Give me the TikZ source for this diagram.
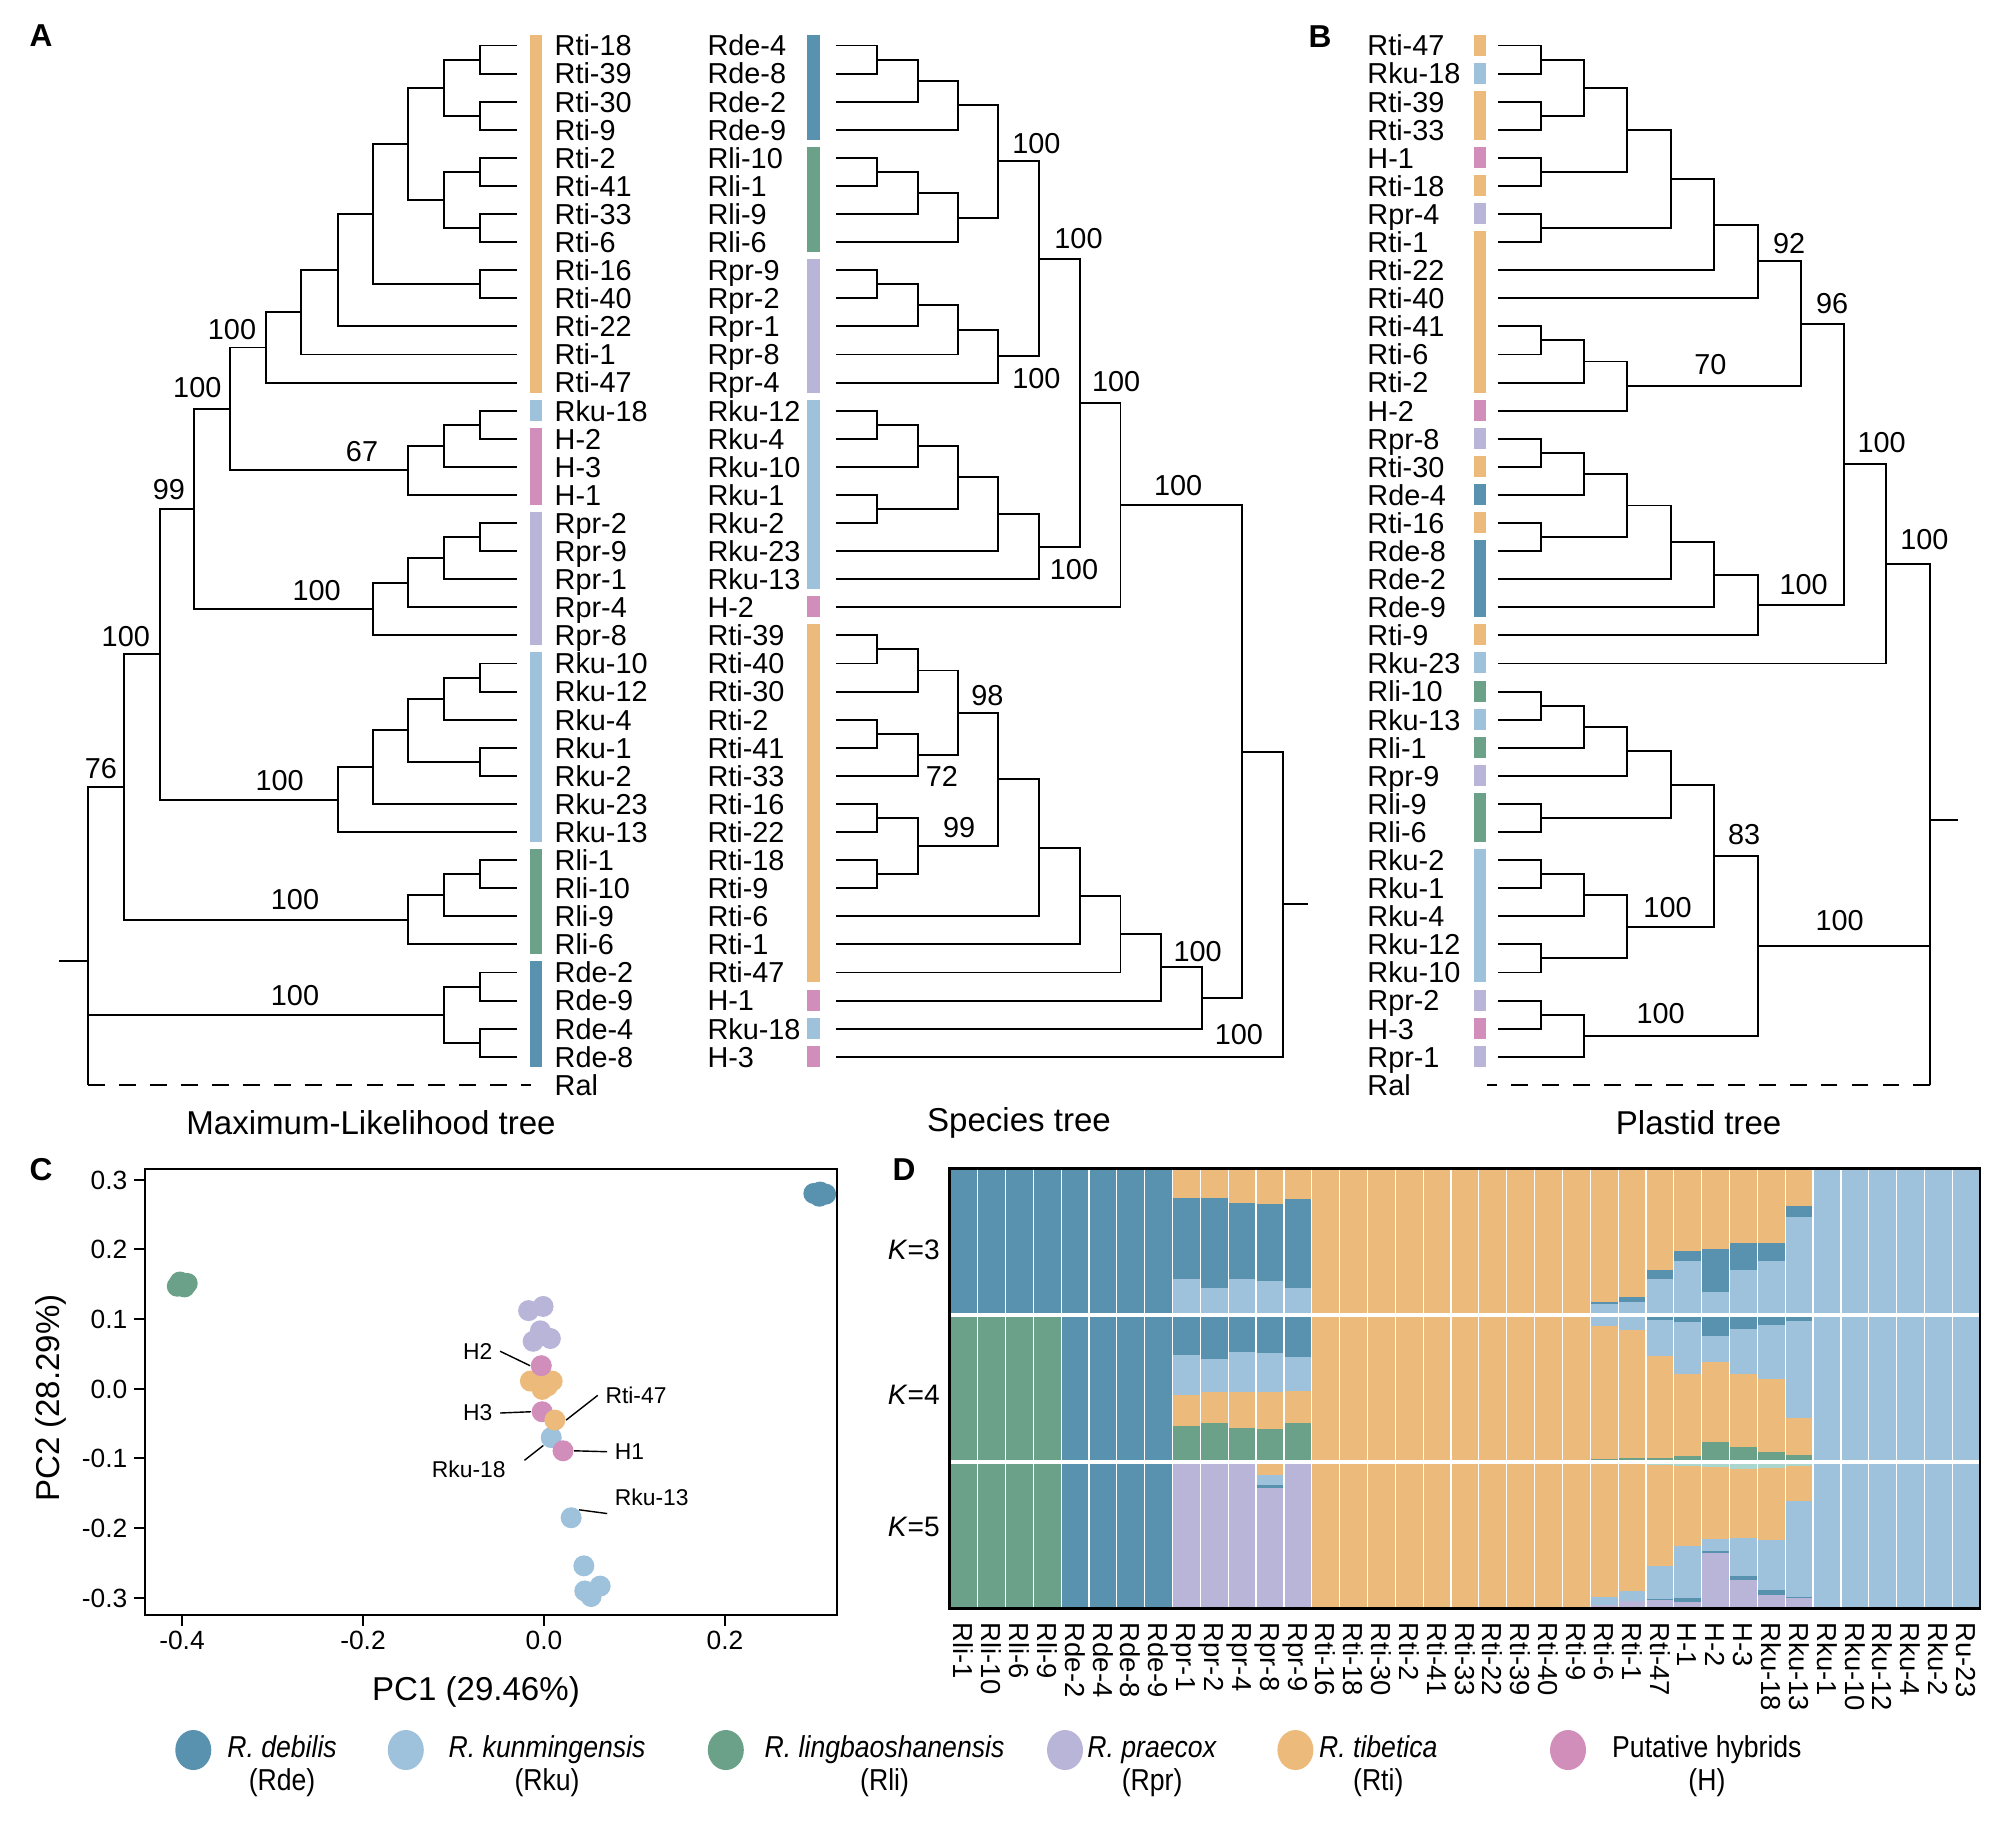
\documentclass[tikz,border=0pt]{standalone}
\usepackage{fontspec}
\setmainfont{Liberation Sans}
\newfontfamily\narrowsans[FakeStretch=0.88]{Liberation Sans}
\usetikzlibrary{calc,shapes.geometric}

\definecolor{rde}{RGB}{88,146,174}
\definecolor{rku}{RGB}{158,193,220}
\definecolor{rli}{RGB}{107,161,136}
\definecolor{rpr}{RGB}{185,181,216}
\definecolor{rti}{RGB}{236,187,124}
\definecolor{hyb}{RGB}{209,142,186}
\definecolor{aqua}{RGB}{170,214,205}

% join two children at depth #2
\newcommand{\clade}[4]{%
  \coordinate (tmpx) at (#2,0);
  \path ($(#3)!0.5!(#4)$) coordinate (tmpm);
  \coordinate (#1) at (tmpm -| tmpx);
  \draw[branch] (#3) -| (#1) |- (#4);
}

% one admixture column: column, row top, colour/fraction list
\newcommand{\admix}[3]{%
  \gdef\accfrac{0}%
  \foreach \cl/\fr in {#3} {%
    \pgfmathsetmacro\ya{#2+146.6*\accfrac}%
    \pgfmathsetmacro\yb{#2+146.6*(\accfrac+\fr)}%
    \fill[\cl] ({949.7+27.85*#1},\ya) rectangle ({949.7+27.85*(#1+1)},\yb);%
    \pgfmathsetmacro\tmpacc{\accfrac+\fr}%
    \xdef\accfrac{\tmpacc}%
  }%
}

\begin{document}
\begin{tikzpicture}[x=0.01cm, y=-0.01cm,
    branch/.style={line width=0.55pt},
    outgroup/.style={line width=0.55pt, dash pattern=on 4.8pt off 4pt},
    leaf/.style={anchor=west, inner sep=0pt, text height=5.9pt, text depth=0pt, font=\fontsize{8.2}{9.8}\selectfont},
    boot/.style={inner sep=0pt, text height=5.9pt, text depth=0pt, font=\fontsize{8.2}{9.8}\selectfont},
    treetitle/.style={font=\fontsize{9.4}{11}\selectfont},
    panel/.style={font=\fontsize{9}{11}\selectfont\bfseries},
    pcadot/.style={circle, inner sep=0pt, minimum size=0.21cm},
    ticklabel/.style={inner sep=0pt, text height=5.4pt, text depth=0pt, font=\fontsize{7.5}{9}\selectfont},
    callout/.style={inner sep=2pt, font=\fontsize{6.5}{8}\selectfont},
    legdot/.style={ellipse, inner sep=0pt, minimum width=0.36cm, minimum height=0.40cm},
    legtext/.style={anchor=west, align=center, inner sep=0pt, font=\narrowsans\fontsize{8.6}{9.4}\selectfont},
    klabel/.style={anchor=east, inner sep=0pt, font=\fontsize{8}{9.6}\selectfont},
    collabel/.style={rotate=-90, anchor=west, inner sep=0pt, text height=5.6pt, text depth=0pt, font=\fontsize{7.8}{9}\selectfont}
  ]
  \useasboundingbox (0,0) rectangle (2007,1830);

  % ---------- A: maximum-likelihood tree
  \node[panel] (pA) at (41,36) {A};
  \foreach \s/\e/\cl in {0/12/rti, 13/13/rku, 14/16/hyb, 17/21/rpr, 22/28/rku, 29/32/rli, 33/36/rde}
    \fill[\cl] (530,{45.5+28.09*\s-11}) rectangle (542,{45.5+28.09*\e+10});
  \foreach \nm [count=\i from 0] in {Rti-18,Rti-39,Rti-30,Rti-9,Rti-2,Rti-41,Rti-33,Rti-6,Rti-16,Rti-40,Rti-22,Rti-1,Rti-47,Rku-18,H-2,H-3,H-1,Rpr-2,Rpr-9,Rpr-1,Rpr-4,Rpr-8,Rku-10,Rku-12,Rku-4,Rku-1,Rku-2,Rku-23,Rku-13,Rli-1,Rli-10,Rli-9,Rli-6,Rde-2,Rde-9,Rde-4,Rde-8} {
    \pgfmathsetmacro\yy{45.5+28.09*\i}
    \coordinate (a\i) at (517,\yy);
    \node[leaf] (la\i) at (554,\yy) {\nm};
  }
  \coordinate (a37) at (531,1084.8);
  \node[leaf] (la37) at (554,1084.8) {Ral};

  \clade{A1}{480}{a0}{a1}
  \clade{A2}{480}{a2}{a3}
  \clade{A3}{443.6}{A1}{A2}
  \clade{A4}{480}{a4}{a5}
  \clade{A5}{480}{a6}{a7}
  \clade{A6}{443.6}{A4}{A5}
  \clade{A7}{408}{A3}{A6}
  \clade{A8}{480}{a8}{a9}
  \clade{A9}{373}{A7}{A8}
  \clade{A10}{338}{A9}{a10}
  \clade{A11}{301.4}{A10}{a11}
  \clade{A12}{265.8}{A11}{a12}
  \clade{A13}{480}{a13}{a14}
  \clade{A14}{443.6}{A13}{a15}
  \clade{A15}{408}{A14}{a16}
  \clade{A16}{229.8}{A12}{A15}
  \clade{A17}{480}{a17}{a18}
  \clade{A18}{443.6}{A17}{a19}
  \clade{A19}{408}{A18}{a20}
  \clade{A20}{373}{A19}{a21}
  \clade{A21}{194.3}{A16}{A20}
  \clade{A22}{480}{a22}{a23}
  \clade{A23}{443.6}{A22}{a24}
  \clade{A24}{480}{a25}{a26}
  \clade{A25}{408}{A23}{A24}
  \clade{A26}{373}{A25}{a27}
  \clade{A27}{338}{A26}{a28}
  \clade{A28}{159.6}{A21}{A27}
  \clade{A29}{480}{a29}{a30}
  \clade{A30}{443.6}{A29}{a31}
  \clade{A31}{408}{A30}{a32}
  \clade{A32}{123.6}{A28}{A31}
  \clade{A33}{480}{a33}{a34}
  \clade{A34}{480}{a35}{a36}
  \clade{A35}{443.6}{A33}{A34}
  \coordinate (A36) at (88,961);
  \coordinate (stubA) at (59.4,961);
  \coordinate (ralA) at (88,1084.8);
  \draw[branch] (A32) -| (A36) |- (A35);
  \draw[branch] (stubA) -- (A36) -- (ralA);
  \draw[outgroup] (ralA) -- (a37);
  \foreach \bx/\by/\bt [count=\k] in {232/329/100, 197.3/387.5/100, 362/451/67, 169/489/99, 316.6/590/100, 125.8/635.7/100, 279.7/780/100, 101/768.6/76, 295/899/100, 295/995/100}
    \node[boot] (bA\k) at (\bx,\by) {\bt};
  \node[treetitle] (tA) at (371,1122.6) {Maximum-Likelihood tree};

  % ---------- species tree
  \foreach \s/\e/\cl in {0/3/rde, 4/7/rli, 8/12/rpr, 13/19/rku, 20/20/hyb, 21/33/rti, 34/34/hyb, 35/35/rku, 36/36/hyb}
    \fill[\cl] (807.4,{45.5+28.09*\s-11}) rectangle (819.6,{45.5+28.09*\e+10});
  \foreach \nm [count=\i from 0] in {Rde-4,Rde-8,Rde-2,Rde-9,Rli-10,Rli-1,Rli-9,Rli-6,Rpr-9,Rpr-2,Rpr-1,Rpr-8,Rpr-4,Rku-12,Rku-4,Rku-10,Rku-1,Rku-2,Rku-23,Rku-13,H-2,Rti-39,Rti-40,Rti-30,Rti-2,Rti-41,Rti-33,Rti-16,Rti-22,Rti-18,Rti-9,Rti-6,Rti-1,Rti-47,H-1,Rku-18,H-3} {
    \pgfmathsetmacro\yy{45.5+28.09*\i}
    \coordinate (s\i) at (835.6,\yy);
    \node[leaf] (ls\i) at (706.8,\yy) {\nm};
  }
  \clade{S1}{876.8}{s0}{s1}
  \clade{S2}{917.6}{S1}{s2}
  \clade{S3}{957.9}{S2}{s3}
  \clade{S4}{876.8}{s4}{s5}
  \clade{S5}{917.6}{S4}{s6}
  \clade{S6}{957.9}{S5}{s7}
  \clade{S7}{998.2}{S3}{S6}
  \clade{S8}{876.8}{s8}{s9}
  \clade{S9}{917.6}{S8}{s10}
  \clade{S10}{957.9}{S9}{s11}
  \clade{S11}{998.2}{S10}{s12}
  \clade{S12}{1039.4}{S7}{S11}
  \clade{S13}{876.8}{s13}{s14}
  \clade{S14}{917.6}{S13}{s15}
  \clade{S15}{876.8}{s16}{s17}
  \clade{S16}{957.9}{S14}{S15}
  \clade{S17}{998.2}{S16}{s18}
  \clade{S18}{1039.4}{S17}{s19}
  \clade{S19}{1079.8}{S12}{S18}
  \clade{S20}{1120.5}{S19}{s20}
  \clade{S21}{876.8}{s21}{s22}
  \clade{S22}{917.6}{S21}{s23}
  \clade{S23}{876.8}{s24}{s25}
  \clade{S24}{917.6}{S23}{s26}
  \clade{S25}{957.9}{S22}{S24}
  \clade{S26}{876.8}{s27}{s28}
  \clade{S27}{876.8}{s29}{s30}
  \clade{S28}{917.6}{S26}{S27}
  \clade{S29}{998.2}{S25}{S28}
  \clade{S30}{1039.4}{S29}{s31}
  \clade{S31}{1079.8}{S30}{s32}
  \clade{S32}{1120.5}{S31}{s33}
  \clade{S33}{1160.9}{S32}{s34}
  \clade{S34}{1202}{S33}{s35}
  \clade{S35}{1242.4}{S20}{S34}
  \clade{S36}{1283.2}{S35}{s36}
  \coordinate (stubS) at ($(S36)+(25.1,0)$);
  \draw[branch] (S36) -- (stubS);
  \foreach \bx/\by/\bt [count=\k] in {1036.4/143/100, 1036.4/378/100, 1078.5/238.6/100, 1116.2/381.4/100, 1178.2/485/100, 1074/569.3/100, 987.4/695.4/98, 941.9/775.7/72, 959.2/827.5/99, 1197.7/950.7/100, 1238.9/1034.6/100}
    \node[boot] (bS\k) at (\bx,\by) {\bt};
  \node[treetitle] (tS) at (1019,1122.6) {Species tree};

  % ---------- B: plastid tree
  \node[panel] (pB) at (1320,37) {B};
  \foreach \s/\e/\cl in {0/0/rti, 1/1/rku, 2/3/rti, 4/4/hyb, 5/5/rti, 6/6/rpr, 7/12/rti, 13/13/hyb, 14/14/rpr, 15/15/rti, 16/16/rde, 17/17/rti, 18/20/rde, 21/21/rti, 22/22/rku, 23/23/rli, 24/24/rku, 25/25/rli, 26/26/rpr, 27/28/rli, 29/33/rku, 34/34/rpr, 35/35/hyb, 36/36/rpr}
    \fill[\cl] (1473.6,{45.5+28.09*\s-11}) rectangle (1485.8,{45.5+28.09*\e+10});
  \foreach \nm [count=\i from 0] in {Rti-47,Rku-18,Rti-39,Rti-33,H-1,Rti-18,Rpr-4,Rti-1,Rti-22,Rti-40,Rti-41,Rti-6,Rti-2,H-2,Rpr-8,Rti-30,Rde-4,Rti-16,Rde-8,Rde-2,Rde-9,Rti-9,Rku-23,Rli-10,Rku-13,Rli-1,Rpr-9,Rli-9,Rli-6,Rku-2,Rku-1,Rku-4,Rku-12,Rku-10,Rpr-2,H-3,Rpr-1} {
    \pgfmathsetmacro\yy{45.5+28.09*\i}
    \coordinate (p\i) at (1498.4,\yy);
    \node[leaf] (lp\i) at (1366.7,\yy) {\nm};
  }
  \coordinate (p37) at (1487,1084.8);
  \node[leaf] (lp37) at (1366.7,1084.8) {Ral};

  \clade{P1}{1541.2}{p0}{p1}
  \clade{P2}{1541.2}{p2}{p3}
  \clade{P3}{1584}{P1}{P2}
  \clade{P4}{1541.2}{p4}{p5}
  \clade{P5}{1626.9}{P3}{P4}
  \clade{P6}{1541.2}{p6}{p7}
  \clade{P7}{1670.6}{P5}{P6}
  \clade{P8}{1713.9}{P7}{p8}
  \clade{P9}{1757.6}{P8}{p9}
  \clade{P10}{1541.2}{p10}{p11}
  \clade{P11}{1584}{P10}{p12}
  \clade{P12}{1626.9}{P11}{p13}
  \clade{P13}{1800.5}{P9}{P12}
  \clade{P14}{1541.2}{p14}{p15}
  \clade{P15}{1584}{P14}{p16}
  \clade{P16}{1541.2}{p17}{p18}
  \clade{P17}{1626.9}{P15}{P16}
  \clade{P18}{1670.6}{P17}{p19}
  \clade{P19}{1713.9}{P18}{p20}
  \clade{P20}{1757.6}{P19}{p21}
  \clade{P21}{1844.2}{P13}{P20}
  \clade{P22}{1886.1}{P21}{p22}
  \clade{P23}{1541.2}{p23}{p24}
  \clade{P24}{1584}{P23}{p25}
  \clade{P25}{1626.9}{P24}{p26}
  \clade{P26}{1541.2}{p27}{p28}
  \clade{P27}{1670.6}{P25}{P26}
  \clade{P28}{1541.2}{p29}{p30}
  \clade{P29}{1584}{P28}{p31}
  \clade{P30}{1541.2}{p32}{p33}
  \clade{P31}{1626.9}{P29}{P30}
  \clade{P32}{1713.9}{P27}{P31}
  \clade{P33}{1541.2}{p34}{p35}
  \clade{P34}{1584}{P33}{p36}
  \clade{P35}{1757.6}{P32}{P34}
  \coordinate (P36) at (1930.3,820);
  \coordinate (stubP) at (1958.3,820);
  \coordinate (ralP) at (1930.3,1084.8);
  \draw[branch] (P22) -| (P36) |- (P35);
  \draw[branch] (stubP) -- (P36) -- (ralP);
  \draw[outgroup] (ralP) -- (p37);
  \foreach \bx/\by/\bt [count=\k] in {1789.2/243/92, 1832/303/96, 1710.3/364/70, 1881.6/441.8/100, 1924.4/539.3/100, 1803.6/584.6/100, 1744.1/834.6/83, 1667.5/907/100, 1839.7/920.4/100, 1660.7/1013.2/100}
    \node[boot] (bP\k) at (\bx,\by) {\bt};
  \node[treetitle] (tP) at (1698.6,1122.6) {Plastid tree};

  % ---------- C: PCA
  \node[panel] (pC) at (41,1170) {C};
  \draw[line width=0.6pt] (144.6,1168.6) rectangle (837,1615);
  \foreach \v in {0.3,0.2,0.1,0.0,-0.1,-0.2,-0.3} {
    \draw[line width=0.6pt] (144.6,{1388.7-697*\v}) -- (133.6,{1388.7-697*\v});
    \node[ticklabel, anchor=east] at (128,{1388.7-697*\v}) {\v};
  }
  \foreach \v in {-0.4,-0.2,0.0,0.2} {
    \draw[line width=0.6pt] ({544+905*\v},1615) -- ({544+905*\v},1626);
    \node[ticklabel] at ({544+905*\v},1640) {\v};
  }
  \node[treetitle] (xtitle) at (476,1692) {PC1 (29.46\%)};
  \node[treetitle, rotate=90] (ytitle) at (51,1398) {PC2 (28.29\%)};

  \begin{scope}[shift={(544,1388.7)}, x=9.05cm, y=6.97cm]
    \foreach \px/\py [count=\k] in {-0.402/0.153, -0.397/0.146, -0.394/0.151, -0.405/0.147}
      \node[pcadot, fill=rli] (li\k) at (\px,\py) {};
    \foreach \px/\py [count=\k] in {0.298/0.280, 0.305/0.282, 0.311/0.279, 0.304/0.276}
      \node[pcadot, fill=rde] (de\k) at (\px,\py) {};
    \foreach \px/\py [count=\k] in {-0.017/0.112, -0.001/0.118, -0.012/0.068, -0.004/0.083, 0.007/0.072}
      \node[pcadot, fill=rpr] (pr\k) at (\px,\py) {};
    \foreach \px/\py [count=\k] in {-0.015/0.011, 0.009/0.011, -0.003/0.015, -0.002/-0.001, 0.004/0.004}
      \node[pcadot, fill=rti] (ti\k) at (\px,\py) {};
    \node[pcadot, fill=hyb] (h2) at (-0.003,0.033) {};
    \node[pcadot, fill=hyb] (h3) at (-0.002,-0.033) {};
    \node[pcadot, fill=rku] (k18) at (0.008,-0.070) {};
    \node[pcadot, fill=rti] (t47) at (0.012,-0.045) {};
    \node[pcadot, fill=hyb] (h1) at (0.021,-0.089) {};
    \node[pcadot, fill=rku] (k13) at (0.030,-0.185) {};
    \foreach \px/\py [count=\k] in {0.044/-0.254, 0.045/-0.290, 0.062/-0.283, 0.052/-0.298}
      \node[pcadot, fill=rku] (ku\k) at (\px,\py) {};
  \end{scope}

  \node[callout] (lh2) at (477.7,1351.2) {H2};
  \node[callout] (lh3) at (477.7,1413) {H3};
  \node[callout] (lt47) at (636,1395.3) {Rti-47};
  \node[callout] (lh1) at (629.5,1451.7) {H1};
  \node[callout] (lk18) at (468.8,1469) {Rku-18};
  \node[callout] (lk13) at (651.8,1497.4) {Rku-13};
  \draw[line width=0.4pt] (lh2.east) -- (h2.west);
  \draw[line width=0.4pt] (lh3.east) -- (h3.west);
  \draw[line width=0.4pt] (lt47.west) -- (t47.east);
  \draw[line width=0.4pt] (lh1.west) -- (h1.east);
  \draw[line width=0.4pt, shorten <=4pt] (lk18.east) -- (k18.south west);
  \draw[line width=0.4pt] (lk13.south west) -- (k13.north east);

  % ---------- D: admixture
  \node[panel] (pD) at (904,1170) {D};
  % K=3
  \fill[rde] (949.7,1168.6) rectangle ({949.7+27.85*8},1315.2);
  \fill[rti] ({949.7+27.85*13},1168.6) rectangle ({949.7+27.85*23},1315.2);
  \fill[rku] ({949.7+27.85*31},1168.6) rectangle (1980,1315.2);
  \admix{8}{1168.6}{rti/0.20, rde/0.555, rku/0.245}
  \admix{9}{1168.6}{rti/0.20, rde/0.613, rku/0.187}
  \admix{10}{1168.6}{rti/0.233, rde/0.517, rku/0.25}
  \admix{11}{1168.6}{rti/0.238, rde/0.527, rku/0.235}
  \admix{12}{1168.6}{rti/0.208, rde/0.603, rku/0.189}
  \admix{23}{1168.6}{rti/0.91, rde/0.014, rku/0.076}
  \admix{24}{1168.6}{rti/0.875, rde/0.032, rku/0.093}
  \admix{25}{1168.6}{rti/0.694, rde/0.059, rku/0.247}
  \admix{26}{1168.6}{rti/0.559, rde/0.069, rku/0.372}
  \admix{27}{1168.6}{rti/0.551, rde/0.289, rku/0.16}
  \admix{28}{1168.6}{rti/0.505, rde/0.189, rku/0.306}
  \admix{29}{1168.6}{rti/0.505, rde/0.127, rku/0.368}
  \admix{30}{1168.6}{rti/0.257, rde/0.074, rku/0.669}
  % K=4
  \fill[rli] (949.7,1315.2) rectangle ({949.7+27.85*4},1461.8);
  \fill[rde] ({949.7+27.85*4},1315.2) rectangle ({949.7+27.85*8},1461.8);
  \fill[rti] ({949.7+27.85*13},1315.2) rectangle ({949.7+27.85*23},1461.8);
  \fill[rku] ({949.7+27.85*31},1315.2) rectangle (1980,1461.8);
  \admix{8}{1315.2}{rde/0.272, rku/0.275, rti/0.208, rli/0.245}
  \admix{9}{1315.2}{rde/0.297, rku/0.225, rti/0.216, rli/0.262}
  \admix{10}{1315.2}{rde/0.25, rku/0.277, rti/0.24, rli/0.233}
  \admix{11}{1315.2}{rde/0.257, rku/0.27, rti/0.248, rli/0.225}
  \admix{12}{1315.2}{rde/0.287, rku/0.228, rti/0.22, rli/0.265}
  \admix{23}{1315.2}{rku/0.074, rti/0.906, rli/0.02}
  \admix{24}{1315.2}{rde/0.012, rku/0.09, rti/0.873, rli/0.025}
  \admix{25}{1315.2}{rde/0.032, rku/0.243, rti/0.696, rli/0.029}
  \admix{26}{1315.2}{rde/0.044, rku/0.36, rti/0.559, rli/0.037}
  \admix{27}{1315.2}{rde/0.14, rku/0.176, rti/0.551, rli/0.133}
  \admix{28}{1315.2}{rde/0.093, rku/0.306, rti/0.503, rli/0.098}
  \admix{29}{1315.2}{rde/0.069, rku/0.363, rti/0.502, rli/0.066}
  \admix{30}{1315.2}{rde/0.039, rku/0.659, rti/0.255, rli/0.047}
  % K=5
  \fill[rli] (949.7,1461.8) rectangle ({949.7+27.85*4},1608.6);
  \fill[rde] ({949.7+27.85*4},1461.8) rectangle ({949.7+27.85*8},1608.6);
  \fill[rpr] ({949.7+27.85*8},1461.8) rectangle ({949.7+27.85*13},1608.6);
  \fill[rti] ({949.7+27.85*13},1461.8) rectangle ({949.7+27.85*23},1608.6);
  \fill[rku] ({949.7+27.85*31},1461.8) rectangle (1980,1608.6);
  \admix{11}{1461.8}{rpr/0.017, rti/0.07, rku/0.074, rde/0.02, rpr/0.819}
  \admix{23}{1461.8}{aqua/0.012, rti/0.909, rku/0.054, rpr/0.025}
  \admix{24}{1461.8}{aqua/0.017, rti/0.867, rku/0.067, rpr/0.049}
  \admix{25}{1461.8}{aqua/0.025, rti/0.684, rku/0.225, rde/0.01, rpr/0.056}
  \admix{26}{1461.8}{aqua/0.03, rti/0.546, rku/0.353, rde/0.025, rpr/0.046}
  \admix{27}{1461.8}{aqua/0.037, rti/0.489, rku/0.079, rde/0.02, rpr/0.375}
  \admix{28}{1461.8}{aqua/0.049, rti/0.469, rku/0.259, rde/0.03, rpr/0.193}
  \admix{29}{1461.8}{aqua/0.042, rti/0.489, rku/0.346, rde/0.032, rpr/0.091}
  \admix{30}{1461.8}{aqua/0.03, rti/0.237, rku/0.654, rde/0.005, rpr/0.074}
  % separators and frame
  \foreach \i in {1,...,36}
    \draw[white, line width=0.35pt] ({949.7+27.85*\i},1168.6) -- ({949.7+27.85*\i},1608.6);
  \draw[white, line width=1pt] (949.7,1315.2) -- (1980,1315.2);
  \draw[white, line width=1pt] (949.7,1461.8) -- (1980,1461.8);
  \draw[line width=0.8pt] (949.7,1168.6) rectangle (1980,1608.6);
  \node[klabel] (k3) at (940.5,1250) {\textit{K}=3};
  \node[klabel] (k4) at (940.5,1395) {\textit{K}=4};
  \node[klabel] (k5) at (940.5,1527) {\textit{K}=5};
  \foreach \nm [count=\i from 0] in {Rli-1,Rli-10,Rli-6,Rli-9,Rde-2,Rde-4,Rde-8,Rde-9,Rpr-1,Rpr-2,Rpr-4,Rpr-8,Rpr-9,Rti-16,Rti-18,Rti-30,Rti-2,Rti-41,Rti-33,Rti-22,Rti-39,Rti-40,Rti-9,Rti-6,Rti-1,Rti-47,H-1,H-2,H-3,Rku-18,Rku-13,Rku-1,Rku-10,Rku-12,Rku-4,Rku-2,Ru-23}
    \node[collabel] (lc\i) at ({949.7+27.85*(\i+0.5)},1622) {\nm};

  % ---------- legend
  \node[legdot, fill=rde] (gde) at (193.3,1750) {};
  \node[legdot, fill=rku] (gku) at (405.8,1750) {};
  \node[legdot, fill=rli] (gli) at (725.8,1750) {};
  \node[legdot, fill=rpr] (gpr) at (1065,1750) {};
  \node[legdot, fill=rti] (gti) at (1295.4,1750) {};
  \node[legdot, fill=hyb] (ghy) at (1568,1750) {};
  \node[legtext] (xde) at (226.6,1766.5) {\textit{R. debilis}\\(Rde)};
  \node[legtext] (xku) at (448,1766.5) {\textit{R. kunmingensis}\\(Rku)};
  \node[legtext] (xli) at (764,1766.5) {\textit{R. lingbaoshanensis}\\(Rli)};
  \node[legtext] (xpr) at (1086.7,1766.5) {\textit{R. praecox}\\(Rpr)};
  \node[legtext] (xti) at (1318.4,1766.5) {\textit{R. tibetica}\\(Rti)};
  \node[legtext] (xhy) at (1611.5,1766.5) {Putative hybrids\\(H)};
\end{tikzpicture}
\end{document}
